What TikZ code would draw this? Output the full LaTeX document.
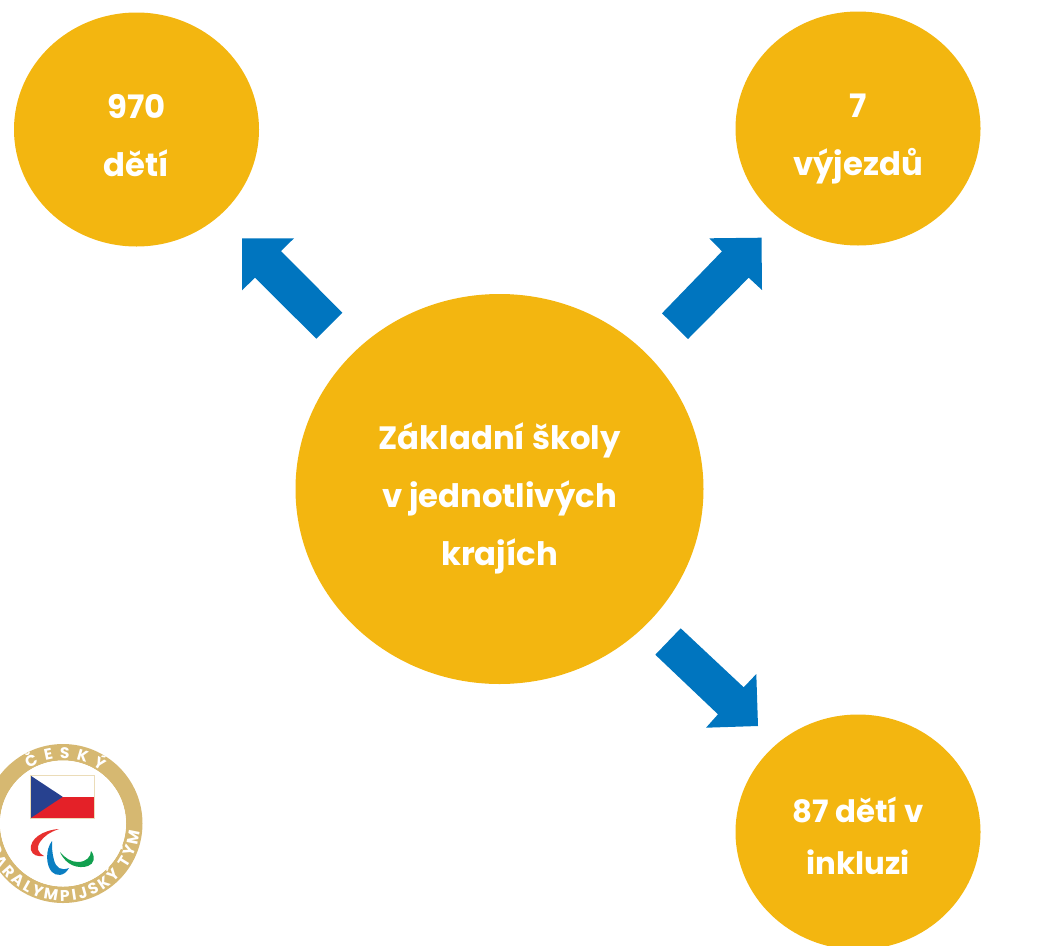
\documentclass[tikz,border=0pt]{standalone}
\usepackage{fontspec}
\setmainfont{Poppins}
\usetikzlibrary{shapes.geometric,decorations.text}
\definecolor{gold}{HTML}{F3B610}
\definecolor{arrowblue}{HTML}{0075BF}
\definecolor{ringgold}{HTML}{D6B871}
\definecolor{flagblue}{HTML}{27418F}
\definecolor{flagred}{HTML}{E42128}
\definecolor{agred}{HTML}{E8312F}
\definecolor{agblue}{HTML}{0A7EC2}
\definecolor{aggreen}{HTML}{11A04F}
\tikzset{
  bubble/.style={ellipse,fill=gold,inner sep=0pt,minimum width=245pt,minimum height=234pt},
  bubbletext/.style={text=white,font=\bfseries\fontsize{32.3}{58}\selectfont,align=center},
  bigarrow/.style={fill=arrowblue,draw=none}
}
\begin{document}
\begin{tikzpicture}[x=1pt,y=-1pt]
\useasboundingbox (0,0) rectangle (1041,945);
\clip (0,0) rectangle (1041,945);
\node[bubble,minimum width=408pt,minimum height=390pt] (main) at (499.5,489) {};
\node[bubble] (tl) at (136.5,129.5) {};
\node[bubble] (tr) at (858,128.5) {};
\node[bubble,minimum height=235pt] (br) at (858,832) {};
\node[bubbletext] (tmain) at (499.5,498) {Základní školy\\v jednotlivých\\krajích};
\node[bubbletext] (ttl) at (136.5,136) {970\\dětí};
\node[bubbletext] (ttr) at (858,139) {7\\výjezdů};
\node[bubbletext,font=\bfseries\fontsize{30.8}{58}\selectfont] (tbr) at (858,836) {87 dětí v\\[-6pt]inkluzi};
% block arrows
\fill[bigarrow] (242,238.3)--(294,238.3)--(281,251)--(342.3,312.7)--(316.3,338.7)--(255,277.7)--(242,290.3)--cycle;
\fill[bigarrow] (761.5,237.7)--(709.3,238.3)--(722,251.3)--(662,313.3)--(688,339)--(748.7,277.7)--(762,290)--cycle;
\fill[bigarrow] (680.7,628.3)--(655.3,654.7)--(718,714.3)--(706,727.7)--(758,726)--(756.3,674)--(743.7,687.3)--cycle;
% logo
\coordinate (lc) at (63,823.5);
\fill[ringgold,even odd rule] (lc) circle[radius=79.5] (lc) circle[radius=63];
\fill[white] (lc) circle[radius=63];
\begin{scope}[shift={(lc)},x=1pt,y=1pt]
\path[postaction={decorate,decoration={text along path,text align=fit to path,
  text={|\bfseries\fontsize{15.5}{15.5}\selectfont\color{white}|ČESKÝ}}}]
  (122:65) arc[start angle=122,end angle=54,radius=65];
\path[postaction={decorate,decoration={text along path,text align=fit to path,
  text={|\bfseries\fontsize{15.5}{15.5}\selectfont\color{white}|PARALYMPIJSKÝ TÝM}}}]
  (198:77.5) arc[start angle=198,end angle=354,radius=77.5];
\end{scope}
\fill[flagred] (30.7,796.8) rectangle (94.3,818);
\fill[white] (30.7,775.7) rectangle (94.3,796.8);
\fill[flagblue] (30.7,775.7)--(62.7,796.8)--(30.7,818)--cycle;
\draw[ringgold!50,line width=0.5pt] (30.7,775.7) rectangle (94.3,818);
\fill[agred] (59,829) .. controls (43,830) and (29,839) .. (31,850) .. controls (32,855) and (38,857) .. (44,856)
  .. controls (38,853) and (36,848) .. (40,842) .. controls (44,836) and (50,832) .. (59,829) -- cycle;
\fill[agblue] (52,841) .. controls (45,850) and (46,866) .. (52,872) .. controls (56,876) and (64,877) .. (69,868)
  .. controls (61,871) and (56,868) .. (54,860) .. controls (52,853) and (52,847) .. (52,841) -- cycle;
\fill[aggreen] (60,852) .. controls (66,866) and (79,869) .. (88,866) .. controls (94,864) and (96,857) .. (91,851)
  .. controls (91,857) and (86,862) .. (78,862) .. controls (71,862) and (65,858) .. (60,852) -- cycle;
\end{tikzpicture}
\end{document}
